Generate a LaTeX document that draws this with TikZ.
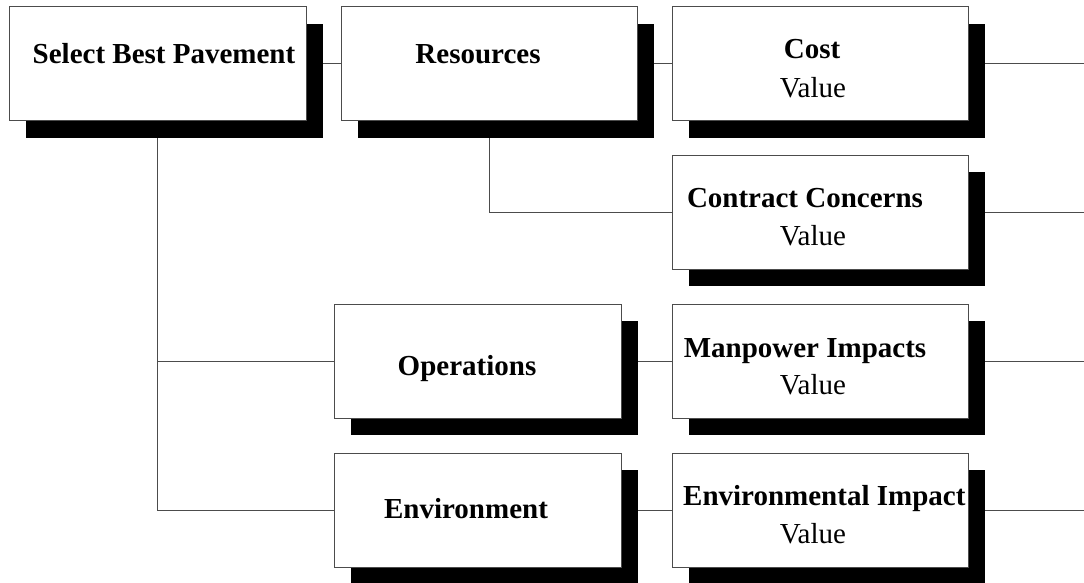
\documentclass[tikz,border=0pt]{standalone}
\usepackage{fontspec}
\setmainfont{Liberation Serif}
\usetikzlibrary{shadows,backgrounds}
\begin{document}
\begin{tikzpicture}[x=1pt,y=-1pt,
  box/.style={draw=black!70, line width=0.8pt, fill=white, inner sep=0pt,
    minimum height=114pt, minimum width=#1,
    drop shadow={shadow xshift=17pt, shadow yshift=-17pt, fill=black, opacity=1}},
  box/.default=296pt,
  lbl/.style={inner sep=0pt, anchor=base, font=\fontsize{29}{31}\selectfont\bfseries},
  val/.style={inner sep=0pt, anchor=base, font=\fontsize{29}{31}\selectfont},
  conn/.style={draw=black!70, line width=0.8pt}]
\useasboundingbox (0,0) rectangle (1084,582);
% boxes
\node[box=297pt] (sel) at (157.5,63.5) {};
\node[box] (res) at (489,63.5) {};
\node[box] (cost) at (820,63.5) {};
\node[box] (cc) at (820,212) {};
\node[box=287pt] (ops) at (477.5,361) {};
\node[box] (mp) at (820,361) {};
\node[box=287pt] (env) at (477.5,510) {};
\node[box] (ei) at (820,510) {};
% free ends
\coordinate (o1) at (1084,63.5);
\coordinate (o2) at (1084,212);
\coordinate (o3) at (1084,361);
\coordinate (o4) at (1084,510);
% texts
\node[lbl] (tsel) at (164,63) {Select Best Pavement};
\node[lbl] (tres) at (478,63) {Resources};
\node[lbl] (tcost) at (812,58) {Cost};
\node[val] (vcost) at (813,97) {Value};
\node[lbl] (tcc) at (805,207) {Contract Concerns};
\node[val] (vcc) at (813,245) {Value};
\node[lbl] (tops) at (467,375) {Operations};
\node[lbl] (tenv) at (466,518) {Environment};
\node[lbl] (tmp) at (805,357) {Manpower Impacts};
\node[val] (vmp) at (813,394) {Value};
\node[lbl, anchor=base west] (tei) at (683,505) {Environmental Impact};
\node[val] (vei) at (813,543) {Value};
% connectors
\begin{pgfonlayer}{background}
\draw[conn] (sel.east) -- (res.west);
\draw[conn] (res.east) -- (cost.west);
\draw[conn] (res.south) |- (cc.west);
\draw[conn] (sel.south) |- (ops.west);
\draw[conn] (sel.south) |- (env.west);
\draw[conn] (ops.east) -- (mp.west);
\draw[conn] (env.east) -- (ei.west);
\draw[conn] (cost.east) -- (o1);
\draw[conn] (cc.east) -- (o2);
\draw[conn] (mp.east) -- (o3);
\draw[conn] (ei.east) -- (o4);
\end{pgfonlayer}
\end{tikzpicture}
\end{document}
